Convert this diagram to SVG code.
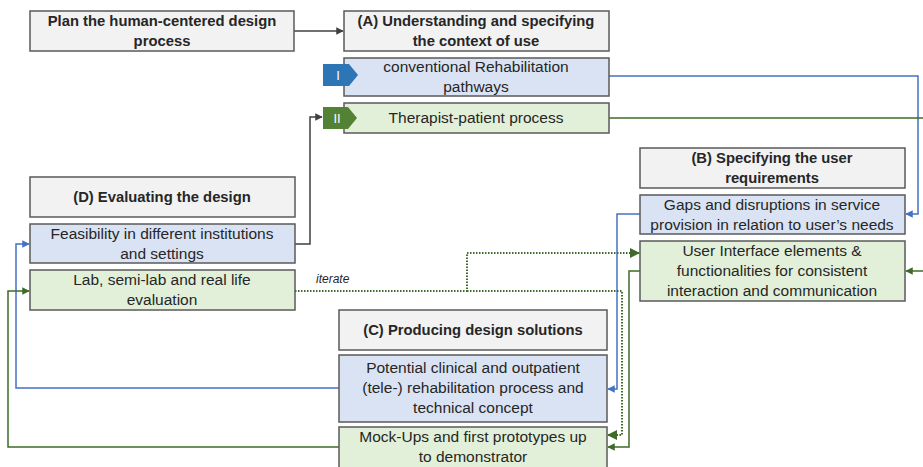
<svg xmlns="http://www.w3.org/2000/svg" width="923" height="467" viewBox="0 0 923 467">
  <defs>
    <style>
      .box { stroke: #5a5a5a; stroke-width: 1.5; }
      .head { fill: #f2f2f2; }
      .blue { fill: #dae3f3; }
      .green { fill: #e2f0d9; }
      text { font-family: "Liberation Sans", Arial, sans-serif; font-size: 15.5px; fill: #262626; text-anchor: middle; }
      .b { font-weight: bold; font-size: 14.8px; }
      .tag { fill: #ffffff; font-size: 13px; }
      .it { font-style: italic; font-size: 12px; text-anchor: start; }
      .c-dark { fill: none; stroke: #404040; stroke-width: 1.5; }
      .c-blue { fill: none; stroke: #4472c4; stroke-width: 1.5; }
      .c-green { fill: none; stroke: #3e6b27; stroke-width: 1.5; }
      .c-dot { fill: none; stroke: #3e6b27; stroke-width: 2; stroke-dasharray: 1.5 1.5; }
    </style>
    <marker id="a-dark" viewBox="0 0 10 10" refX="9" refY="5" markerWidth="5" markerHeight="5" orient="auto">
      <path d="M0,0 L10,5 L0,10 z" fill="#404040"/>
    </marker>
    <marker id="a-blue" viewBox="0 0 10 10" refX="9" refY="5" markerWidth="5" markerHeight="5" orient="auto">
      <path d="M0,0 L10,5 L0,10 z" fill="#4472c4"/>
    </marker>
    <marker id="a-green" viewBox="0 0 10 10" refX="9" refY="5" markerWidth="5" markerHeight="5" orient="auto">
      <path d="M0,0 L10,5 L0,10 z" fill="#3e6b27"/>
    </marker>
  </defs>

  <g id="connectors">
    <path class="c-dark" d="M294,31 H343" marker-end="url(#a-dark)"/>
    <path class="c-dark" d="M295,244 H310 V117 H322" marker-end="url(#a-dark)"/>
    <path class="c-blue" d="M609,76 H918 V214 H906" marker-end="url(#a-blue)"/>
    <path class="c-green" d="M609,118 H923"/>
    <path class="c-green" d="M923,271 H906" marker-end="url(#a-green)"/>
    <path class="c-blue" d="M640,214 H617 V389 H608" marker-end="url(#a-blue)"/>
    <path class="c-green" d="M640,271 H629 V447 H608" marker-end="url(#a-green)"/>
    <path class="c-dot" d="M295,291 H467 V253 H639" marker-end="url(#a-green)"/>
    <path class="c-dot" d="M467,291 H622 V435 H608" marker-end="url(#a-green)"/>
    <path class="c-blue" d="M339,388 H16 V244 H29" marker-end="url(#a-blue)"/>
    <path class="c-green" d="M339,447 H8 V291 H29" marker-end="url(#a-green)"/>
    <text class="it" x="316" y="283">iterate</text>
  </g>

  <g id="plan">
    <rect class="box head" x="30" y="11" width="264" height="40"/>
    <text class="b" x="162" y="26">Plan the human-centered design</text>
    <text class="b" x="162" y="46">process</text>
  </g>

  <g id="context-a">
    <rect class="box head" x="344" y="11" width="265" height="40"/>
    <text class="b" x="476" y="26">(A) Understanding and specifying</text>
    <text class="b" x="476" y="46">the context of use</text>
  </g>

  <g id="pathways">
    <rect class="box blue" x="344" y="58" width="265" height="38"/>
    <text x="476" y="72">conventional Rehabilitation</text>
    <text x="476" y="92">pathways</text>
    <path d="M323,64 H349 L358,75 L349,86 H323 z" fill="#2e75b6"/>
    <text class="tag" x="338" y="80">I</text>
  </g>

  <g id="therapist">
    <rect class="box green" x="344" y="103" width="265" height="30"/>
    <text x="476" y="123">Therapist-patient process</text>
    <path d="M323,107 H348 L357,118 L348,129 H323 z" fill="#548235"/>
    <text class="tag" x="337" y="123">II</text>
  </g>

  <g id="requirements-b">
    <rect class="box head" x="640" y="148" width="265" height="40"/>
    <text class="b" x="772" y="163">(B) Specifying the user</text>
    <text class="b" x="772" y="183">requirements</text>
  </g>

  <g id="gaps">
    <rect class="box blue" x="640" y="195" width="265" height="39"/>
    <text x="772" y="210">Gaps and disruptions in service</text>
    <text x="772" y="230">provision in relation to user’s needs</text>
  </g>

  <g id="ui-elements">
    <rect class="box green" x="640" y="241" width="265" height="60"/>
    <text x="772" y="256">User Interface elements &amp;</text>
    <text x="772" y="276">functionalities for consistent</text>
    <text x="772" y="296">interaction and communication</text>
  </g>

  <g id="evaluating-d">
    <rect class="box head" x="30" y="177" width="265" height="40"/>
    <text class="b" x="162" y="202">(D) Evaluating the design</text>
  </g>

  <g id="feasibility">
    <rect class="box blue" x="30" y="224" width="265" height="39"/>
    <text x="162" y="239">Feasibility in different institutions</text>
    <text x="162" y="259">and settings</text>
  </g>

  <g id="lab">
    <rect class="box green" x="30" y="270" width="265" height="40"/>
    <text x="162" y="285">Lab, semi-lab and real life</text>
    <text x="162" y="305">evaluation</text>
  </g>

  <g id="solutions-c">
    <rect class="box head" x="339" y="310" width="268" height="40"/>
    <text class="b" x="473" y="335">(C) Producing design solutions</text>
  </g>

  <g id="potential">
    <rect class="box blue" x="339" y="355" width="268" height="67"/>
    <text x="473" y="373">Potential clinical and outpatient</text>
    <text x="473" y="393">(tele-) rehabilitation process and</text>
    <text x="473" y="413">technical concept</text>
  </g>

  <g id="mockups">
    <rect class="box green" x="339" y="427" width="268" height="42"/>
    <text x="473" y="442">Mock-Ups and first prototypes up</text>
    <text x="473" y="462">to demonstrator</text>
  </g>
</svg>
